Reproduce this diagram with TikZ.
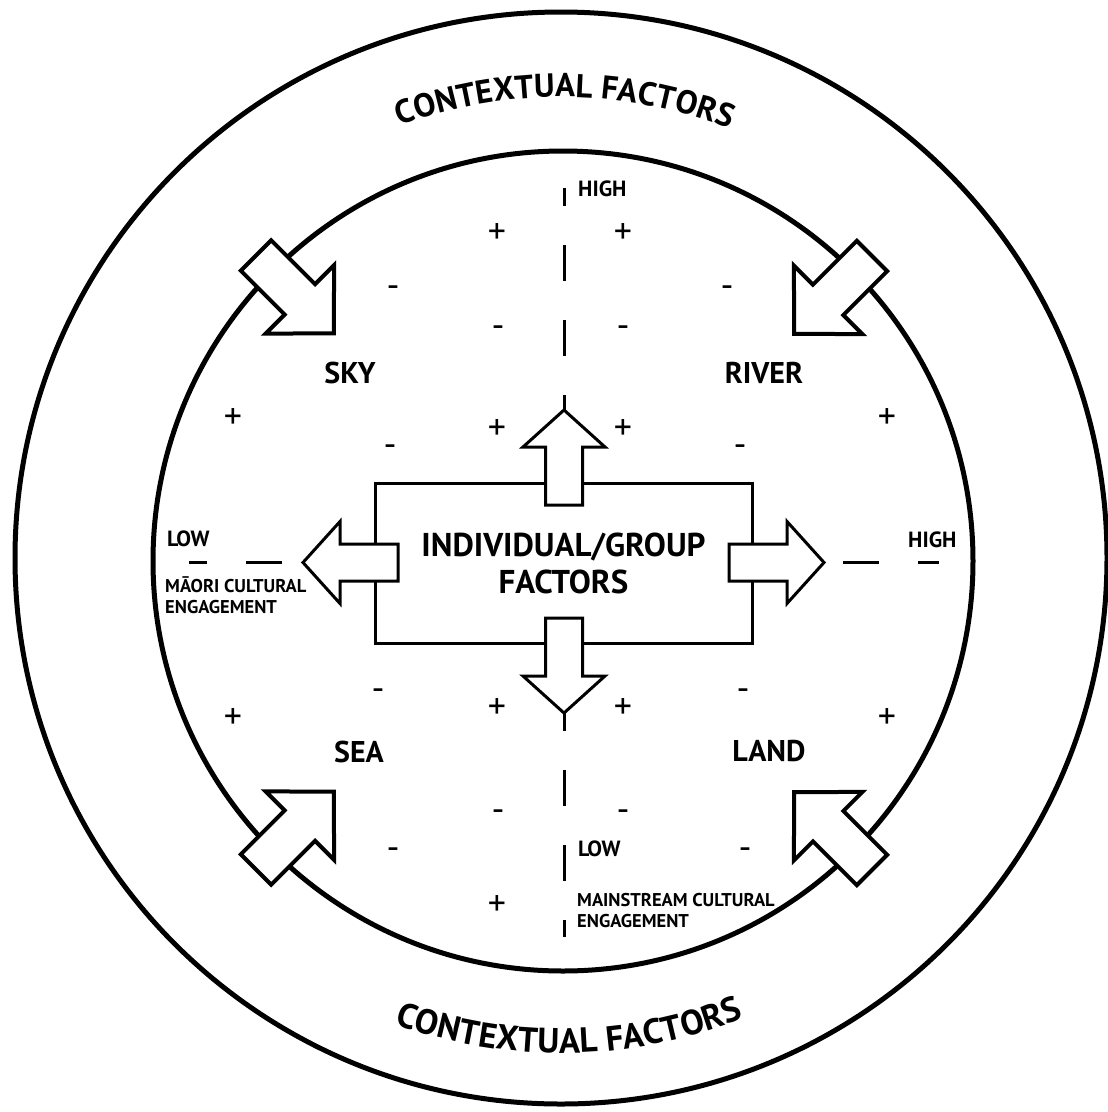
\documentclass[tikz,border=0pt]{standalone}
\usepackage{fontspec}
\setmainfont{PT Sans}
\usepackage{tikz}
\usetikzlibrary{decorations.text}
\tikzstyle{ring}=[line width=5pt]
\tikzstyle{factorbox}=[rectangle, draw=black, line width=3pt, minimum width=377pt, minimum height=160pt, align=center, font=\fontsize{33}{37}\selectfont\bfseries]
\tikzstyle{realm}=[font=\fontsize{30}{34}\selectfont\bfseries]
\tikzstyle{level}=[font=\fontsize{22}{24}\selectfont\bfseries, inner sep=0pt, anchor=base west]
\tikzstyle{axisname}=[font=\fontsize{18.5}{21}\selectfont\bfseries, inner sep=0pt, align=left, anchor=north west]
\tikzstyle{sign}=[font=\fontsize{36}{36}\selectfont, inner sep=0pt, text height=20pt, text depth=0pt]
\tikzstyle{axis}=[line width=3pt, dash pattern=on 36pt off 39pt]
\tikzset{
  outerarrow/.pic={\draw[line width=4pt, fill=white] (0,-21.5) -- (62,-21.5) -- (62,-48.5) -- (110,0) -- (62,48.5) -- (62,21.5) -- (0,21.5) -- cycle;},
  innerarrow/.pic={\draw[line width=3pt, fill=white] (0,-18.5) -- (58,-18.5) -- (58,-41) -- (95,0) -- (58,41) -- (58,18.5) -- (0,18.5) -- cycle;
    \coordinate (-tip) at (95,0);},
}

\begin{document}
\begin{tikzpicture}[x=1pt, y=-1pt]
	\useasboundingbox (0,0) rectangle (1108,1112);
	% rings
	\node (outer) [ring, draw, circle, minimum size=1092pt] at (561,558) {};
	\node (inner) [ring, draw, circle, minimum size=820pt] at (563,561) {};
	\path[decorate, decoration={text along path, text align=center, text={|\fontsize{33}{36}\selectfont\bfseries|CONTEXTUAL{ }FACTORS}}]
		(561,558) ++(159.5:461pt) arc[start angle=159.5, end angle=19.5, radius=461pt];
	\path[decorate, decoration={text along path, text align=center, text={|\fontsize{35}{38}\selectfont\bfseries|CONTEXTUAL{ }FACTORS}}]
		(561,558) ++(201:495pt) arc[start angle=201, end angle=341, radius=495pt];

	\node (factors) [factorbox] at (563.5,563) {INDIVIDUAL/GROUP\\FACTORS};

	\pic (skyarrow) [rotate=-45] at (256,255.5) {outerarrow};
	\pic (riverarrow) [rotate=-135] at (872,256) {outerarrow};
	\pic (seaarrow) [rotate=45] at (256,869.5) {outerarrow};
	\pic (landarrow) [rotate=135] at (872,870) {outerarrow};

	\pic (up) [rotate=90] at (564,505) {innerarrow};
	\pic (down) [rotate=-90] at (564,618) {innerarrow};
	\pic (left) [rotate=180] at (398,562.5) {innerarrow};
	\pic (right) at (729,562.5) {innerarrow};

	\coordinate (hightop) at (564,188);
	\coordinate (lowbottom) at (564,937);
	\coordinate (lowleft) at (189,562.5);
	\coordinate (highright) at (939,562.5);
	\draw [axis, dash phase=21pt] (up-tip) -- (hightop);
	\draw [axis, dash phase=18pt] (down-tip) -- (lowbottom);
	\draw [axis, dash phase=54pt] (left-tip) -- (lowleft);
	\draw [axis, dash phase=56pt] (right-tip) -- (highright);

	\node (sky) [realm] at (350,372.5) {SKY};
	\node (river) [realm] at (764,372.5) {RIVER};
	\node (sea) [realm] at (359,751.5) {SEA};
	\node (land) [realm] at (769,751.5) {LAND};

	\node (highv) [level] at (578,196) {HIGH};
	\node (lowv) [level] at (578,856) {LOW};
	\node (lowh) [level] at (167,546) {LOW};
	\node (highh) [level] at (908,547) {HIGH};
	\node (mainstream) [axisname] at (577,893) {MAINSTREAM CULTURAL\\ENGAGEMENT};
	\node (maori) [axisname] at (165,576) {MĀORI CULTURAL\\ENGAGEMENT};

	\foreach \x/\y [count=\i] in {497/233, 623/233, 233/418, 887/418, 497/429, 623/429, 233/718, 887/718, 497/708, 623/708, 497/905}
		\node (plus\i) [sign] at (\x,\y) {+};
	\foreach \x/\y [count=\i] in {393/287, 727/287, 498/327, 623/327, 390/446, 740/446, 378/690, 743/690, 498/811, 623/811, 393/849, 745/849}
		\node (minus\i) [sign] at (\x,\y) {-};
\end{tikzpicture}
\end{document}
